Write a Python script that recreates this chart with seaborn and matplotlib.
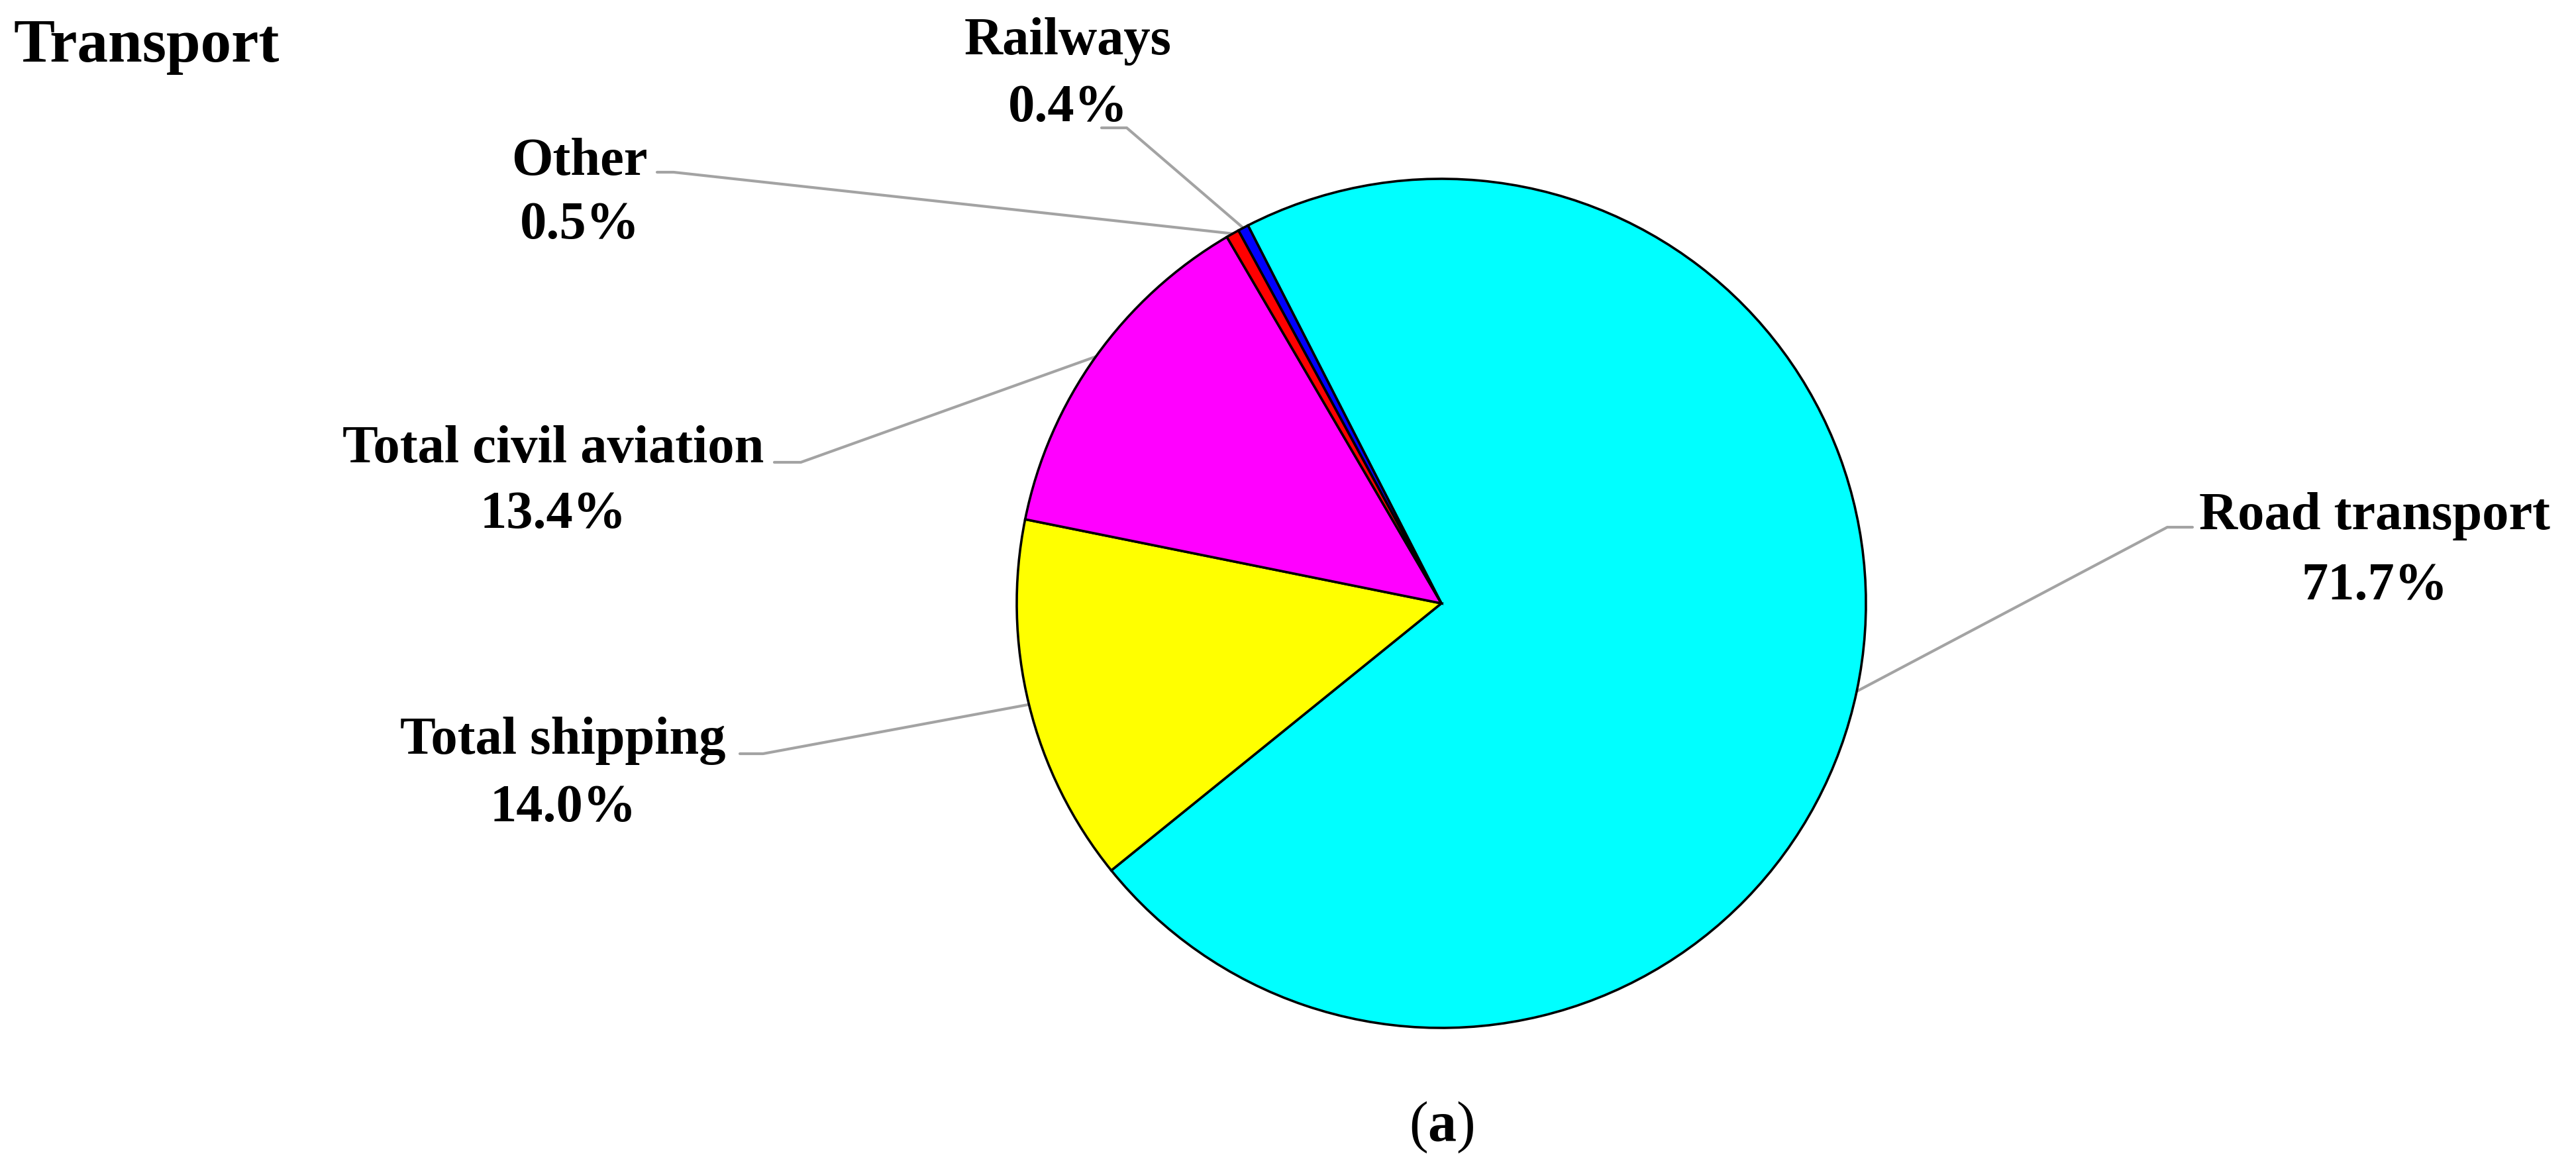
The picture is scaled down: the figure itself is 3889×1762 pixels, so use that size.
import numpy as np
import matplotlib
matplotlib.use("Agg")
import matplotlib.pyplot as plt
import seaborn as sns

# ---------------- data ----------------
categories = ["Road transport", "Total shipping", "Total civil aviation", "Other", "Railways"]
values = [71.7, 14.0, 13.4, 0.5, 0.4]
pct_labels = ["71.7%", "14.0%", "13.4%", "0.5%", "0.4%"]
slice_colors = ["#00FFFF", "#FFFF00", "#FF00FF", "#FF0000", "#0000FF"]
title_text = "Transport"
panel_text = r"($\mathbf{a}$)"

# ---------------- style ----------------
sns.set_theme(style="white")
plt.rcParams["font.family"] = ["Liberation Serif", "DejaVu Serif"]
plt.rcParams["mathtext.fontset"] = "custom"
plt.rcParams["mathtext.rm"] = "Liberation Serif"
plt.rcParams["mathtext.bf"] = "Liberation Serif:bold"

W, H = 3889, 1762
fig = plt.figure(figsize=(W / 100, H / 100), dpi=100)
ax = fig.add_axes([0, 0, 1, 1])

cx, cy_top, R = 2176, 911, 641
center = (cx, H - cy_top)
palette = sns.color_palette(slice_colors)

wedges, _ = ax.pie(values, colors=palette, startangle=117.1, counterclock=False,
                   center=center, radius=R,
                   wedgeprops=dict(edgecolor="black", linewidth=2.6))
ax.set_xlim(0, W)
ax.set_ylim(0, H)
ax.set_aspect("equal")
ax.axis("off")

# label layout: (center x, baseline1 y, baseline2 y, stub x0, stub x1, stub y) in px from top-left
layout = {
    "Road transport":       (3585, 799, 905, 3310, 3272, 796),
    "Total shipping":       (850, 1138, 1240, 1117, 1152, 1138),
    "Total civil aviation": (835, 698, 797, 1169, 1209, 698),
    "Other":                (875, 264, 360, 992, 1017, 260),
    "Railways":             (1612, 82, 183, 1663, 1701, 193),
}

lab_fs = 58
line_col = "#A3A3A3"
for w, name, pct in zip(wedges, categories, pct_labels):
    tx, b1, b2, sx0, sx1, sy = layout[name]
    mid = np.deg2rad((w.theta1 + w.theta2) / 2)
    ex = center[0] + R * np.cos(mid)
    ey = center[1] + R * np.sin(mid)
    ax.plot([sx0, sx1, ex], [H - sy, H - sy, ey], color=line_col, lw=3.0,
            solid_joinstyle="miter", zorder=0)
    ax.text(tx, H - b1, name, ha="center", va="baseline", fontsize=lab_fs,
            fontweight="bold", color="black")
    ax.text(tx, H - b2, pct, ha="center", va="baseline", fontsize=lab_fs,
            fontweight="bold", color="black")

ax.text(20, H - 93, title_text, ha="left", va="baseline", fontsize=67,
        fontweight="bold", color="black")
ax.text(2176, H - 1723, panel_text, ha="center", va="baseline", fontsize=62,
        color="black")

fig.savefig("out.png", dpi=100, facecolor="white")
